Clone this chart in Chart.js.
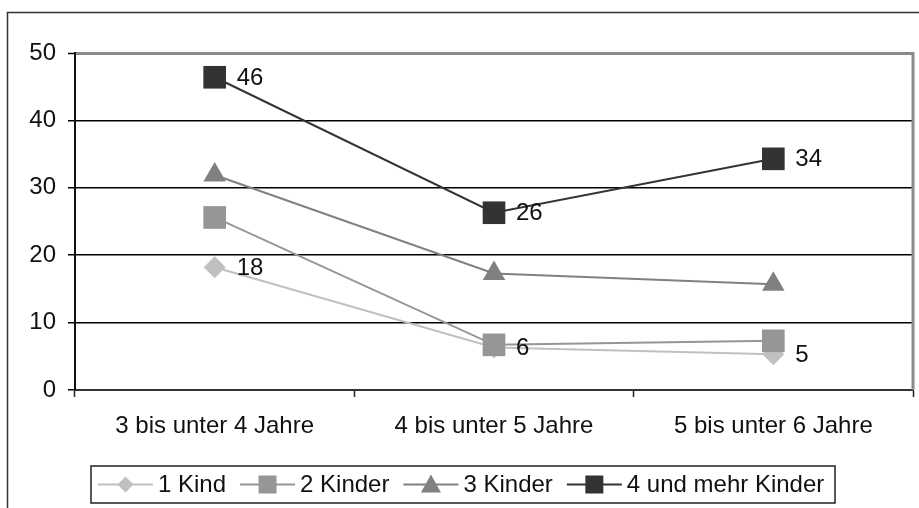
<!DOCTYPE html>
<html>
<head>
<meta charset="utf-8">
<script src="https://cdn.jsdelivr.net/npm/chart.js@4/dist/chart.umd.min.js"></script>
<style>
  body { margin: 0; background: #fff; }
  canvas { display: block; }
</style>
</head>
<body>
<canvas id="kinderChart" width="919" height="508"></canvas>
<script>
// Daten
const kategorien = ['3 bis unter 4 Jahre', '4 bis unter 5 Jahre', '5 bis unter 6 Jahre'];
const serienNamen = ['1 Kind', '2 Kinder', '3 Kinder', '4 und mehr Kinder'];
const einKind = [18.2, 6.3, 5.3];
const zweiKinder = [25.6, 6.7, 7.3];
const dreiKinder = [31.9, 17.3, 15.7];
const vierUndMehr = [46.4, 26.3, 34.3];
const labelsEinKind = ['18', '6', '5'];
const labelsVierUndMehr = ['46', '26', '34'];
const yTicks = [0, 10, 20, 30, 40, 50];

const schrift = "'Liberation Sans', Arial, sans-serif";

// Stil pro Serie
const stile = [
    { farbe: '#c0c0c0', punkt: 'rectRot', radius: 11 },
    { farbe: '#969696', punkt: 'rect', radius: 16 },
    { farbe: '#808080', punkt: 'triangle', radius: 13 },
    { farbe: '#333333', punkt: 'rect', radius: 16 }
];
const werte = [einKind, zweiKinder, dreiKinder, vierUndMehr];

const datasets = serienNamen.map((name, i) => ({
    label: name,
    data: werte[i],
    borderColor: stile[i].farbe,
    backgroundColor: stile[i].farbe,
    pointBackgroundColor: stile[i].farbe,
    pointBorderColor: stile[i].farbe,
    pointBorderWidth: 0,
    pointStyle: stile[i].punkt,
    pointRadius: stile[i].radius,
    pointHoverRadius: stile[i].radius,
    borderWidth: 2,
    tension: 0,
    order: 4 - i
}));

// Rahmen, Werte-Beschriftung und Legende
const extrasPlugin = {
    id: 'extras',
    afterDraw(chart) {
        const ctx = chart.ctx;
        const area = chart.chartArea;
        ctx.save();

        // äußerer Rahmen
        ctx.strokeStyle = '#333';
        ctx.lineWidth = 1.5;
        ctx.strokeRect(7.5, 12.5, 940, 520);

        // rechter Rand der Zeichenfläche
        ctx.strokeStyle = '#8a8a8a';
        ctx.lineWidth = 3;
        ctx.beginPath();
        ctx.moveTo(area.right, area.top - 1);
        ctx.lineTo(area.right, area.bottom);
        ctx.stroke();

        // Werte-Beschriftung
        ctx.fillStyle = '#111';
        ctx.font = '24px ' + schrift;
        ctx.textAlign = 'left';
        ctx.textBaseline = 'middle';
        const beschriften = (dsIndex, texte) => {
            const meta = chart.getDatasetMeta(dsIndex);
            meta.data.forEach((p, j) => {
                ctx.fillText(texte[j], p.x + 22, p.y + 1);
            });
        };
        beschriften(0, labelsEinKind);
        beschriften(3, labelsVierUndMehr);

        // Legende
        ctx.strokeStyle = '#222';
        ctx.lineWidth = 1.5;
        ctx.strokeRect(91, 466, 744, 37);
        let x = 98;
        const y = 484.5;
        serienNamen.forEach((name, i) => {
            const s = stile[i];
            ctx.strokeStyle = s.farbe;
            ctx.fillStyle = s.farbe;
            ctx.lineWidth = 2;
            ctx.beginPath();
            ctx.moveTo(x, y);
            ctx.lineTo(x + 55, y);
            ctx.stroke();
            const cx = x + 27.5;
            ctx.beginPath();
            if (s.punkt === 'rectRot') {
                ctx.moveTo(cx, y - 8);
                ctx.lineTo(cx + 8, y);
                ctx.lineTo(cx, y + 8);
                ctx.lineTo(cx - 8, y);
            } else if (s.punkt === 'triangle') {
                ctx.moveTo(cx, y - 10);
                ctx.lineTo(cx + 10, y + 8);
                ctx.lineTo(cx - 10, y + 8);
            } else {
                ctx.rect(cx - 9, y - 9, 18, 18);
            }
            ctx.closePath();
            ctx.fill();

            ctx.fillStyle = '#111';
            ctx.font = '24px ' + schrift;
            ctx.textBaseline = 'middle';
            ctx.fillText(name, x + 60, y + 1);
            x += 60 + ctx.measureText(name).width + 14;
        });
        ctx.restore();
    }
};

new Chart(document.getElementById('kinderChart'), {
    type: 'line',
    data: { labels: kategorien, datasets: datasets },
    options: {
        responsive: false,
        animation: false,
        events: [],
        layout: { autoPadding: false, padding: { top: 53, right: 6, left: 0, bottom: 0 } },
        plugins: {
            legend: { display: false },
            tooltip: { enabled: false }
        },
        scales: {
            x: {
                offset: true,
                grid: {
                    offset: true,
                    drawOnChartArea: false,
                    drawTicks: true,
                    tickLength: 7,
                    tickColor: '#222',
                    tickWidth: 1.5
                },
                border: { display: true, color: '#333', width: 2 },
                ticks: {
                    color: '#111',
                    font: { family: schrift, size: 24 },
                    padding: 15,
                    maxRotation: 0
                },
                afterFit(scale) {
                    scale.height = 118;
                    scale.paddingLeft = 0;
                    scale.paddingRight = 0;
                }
            },
            y: {
                min: 0,
                max: 50,
                afterBuildTicks(scale) {
                    scale.ticks = yTicks.map(v => ({ value: v }));
                },
                grid: {
                    color: (c) => c.tick && c.tick.value === 0 ? 'rgba(0,0,0,0)' :
                        (c.tick && c.tick.value === 50 ? '#8a8a8a' : '#000'),
                    lineWidth: (c) => c.tick && c.tick.value === 50 ? 3 : 1.5,
                    tickColor: '#000',
                    tickLength: 7,
                    tickWidth: 1.5
                },
                border: { display: true, color: '#111', width: 2 },
                ticks: {
                    color: '#111',
                    font: { family: schrift, size: 24 },
                    padding: 12
                },
                afterFit(scale) {
                    scale.width = 75;
                    scale.paddingTop = 0;
                    scale.paddingBottom = 0;
                }
            }
        }
    },
    plugins: [extrasPlugin]
});
</script>
</body>
</html>
